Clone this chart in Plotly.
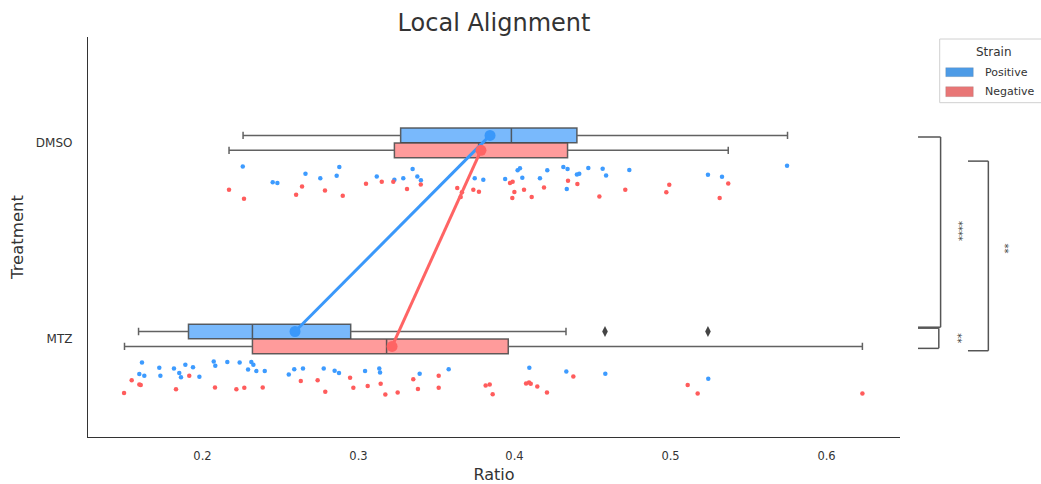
import numpy as np
import plotly.graph_objects as go

# ---------------- data ----------------
categories = ["DMSO", "MTZ"]
strains = ["Positive", "Negative"]

# strip points (Ratio values) and their vertical jitter (offset from category)
pos_dmso_ratio = [0.2258, 0.245, 0.248, 0.266, 0.2755, 0.286, 0.2877, 0.3117, 0.323, 0.3287,
                  0.3347, 0.3377, 0.340, 0.3745, 0.380, 0.394, 0.402, 0.4035, 0.405, 0.4163,
                  0.421, 0.4313, 0.434, 0.440, 0.4415, 0.4473, 0.4335, 0.4565, 0.4587, 0.4736,
                  0.524, 0.533, 0.5747]
pos_dmso_jitter = [0.120, 0.201, 0.204, 0.157, 0.180, 0.167, 0.123, 0.171, 0.188, 0.181,
                   0.133, 0.171, 0.191, 0.181, 0.188, 0.184, 0.140, 0.130, 0.178, 0.181,
                   0.140, 0.123, 0.133, 0.161, 0.157, 0.128, 0.235, 0.132, 0.166, 0.138,
                   0.162, 0.173, 0.117]

neg_dmso_ratio = [0.217, 0.2266, 0.260, 0.2638, 0.2785, 0.2899, 0.3048, 0.3149, 0.3223, 0.3311,
                  0.3399, 0.3633, 0.3663, 0.3655, 0.3736, 0.3772, 0.3971, 0.3988, 0.3999, 0.3986,
                  0.4061, 0.411, 0.4189, 0.4343, 0.4403, 0.4544, 0.471, 0.4973, 0.4992, 0.5315,
                  0.537]
neg_dmso_jitter = [0.239, 0.285, 0.264, 0.222, 0.243, 0.269, 0.208, 0.198, 0.198, 0.235,
                   0.212, 0.230, 0.252, 0.276, 0.239, 0.249, 0.205, 0.198, 0.250, 0.281,
                   0.239, 0.276, 0.228, 0.193, 0.210, 0.273, 0.239, 0.252, 0.213, 0.281,
                   0.207]

pos_mtz_ratio = [0.1612, 0.1595, 0.1627, 0.1723, 0.173, 0.1817, 0.1851, 0.1862, 0.189, 0.1939,
                 0.198, 0.2072, 0.2082, 0.2159, 0.2238, 0.2313, 0.2326, 0.2292, 0.2345, 0.2399,
                 0.2553, 0.2588, 0.2644, 0.2777, 0.2847, 0.2875, 0.3042, 0.3133, 0.3138, 0.3392,
                 0.3578, 0.4095, 0.4332, 0.4582, 0.5242]
pos_mtz_jitter = [0.120, 0.179, 0.188, 0.147, 0.188, 0.151, 0.174, 0.195, 0.131, 0.144,
                  0.193, 0.115, 0.137, 0.118, 0.120, 0.117, 0.131, 0.156, 0.164, 0.164,
                  0.181, 0.154, 0.151, 0.151, 0.162, 0.174, 0.164, 0.151, 0.171, 0.178,
                  0.154, 0.147, 0.166, 0.178, 0.203]

neg_mtz_ratio = [0.1497, 0.1546, 0.1595, 0.1604, 0.183, 0.1915, 0.208, 0.2217, 0.2268, 0.2386,
                 0.263, 0.2738, 0.2787, 0.2946, 0.2967, 0.3059, 0.3142, 0.3172, 0.3251, 0.3351,
                 0.3381, 0.3514, 0.3514, 0.3815, 0.3841, 0.386, 0.4074, 0.4093, 0.4104, 0.4146,
                 0.4208, 0.4377, 0.511, 0.5174, 0.623]
neg_mtz_jitter = [0.276, 0.210, 0.232, 0.235, 0.257, 0.188, 0.247, 0.257, 0.249, 0.247,
                  0.215, 0.210, 0.269, 0.198, 0.249, 0.240, 0.228, 0.283, 0.273, 0.205,
                  0.255, 0.188, 0.249, 0.237, 0.232, 0.282, 0.227, 0.222, 0.229, 0.243,
                  0.273, 0.192, 0.235, 0.278, 0.278]

# box statistics per category (DMSO, MTZ)
pos_lo = [0.226, 0.159]
pos_q1 = [0.327, 0.191]
pos_med = [0.398, 0.232]
pos_q3 = [0.440, 0.295]
pos_hi = [0.575, 0.433]
neg_lo = [0.217, 0.150]
neg_q1 = [0.323, 0.232]
neg_med = [0.377, 0.318]
neg_q3 = [0.434, 0.396]
neg_hi = [0.537, 0.623]
pos_outlier_ratio = [0.458, 0.524]
pos_outlier_cat = ["MTZ", "MTZ"]

# point-plot means
pos_mean = [0.3843, 0.2593]
neg_mean = [0.3785, 0.3215]

# significance annotations
sig_labels = ["****", "**", "**"]

# ---------------- styling ----------------
FONT = "DejaVu Sans"
BLUE_BOX = "#79b9fc"
RED_BOX = "#ff9b9b"
BLUE_PT = "#3d9bff"
RED_PT = "#ff5c5c"
BLUE_LINE = "#3a98fa"
RED_LINE = "#ff6464"
EDGE = "rgba(70,70,70,0.85)"
DODGE = 0.038
BOXW = 0.075

cat_idx = {c: i for i, c in enumerate(categories)}
idx = np.arange(len(categories))

fig = go.Figure()

# boxes
for lo, q1, med, q3, hi, off, fill in [
    (pos_lo, pos_q1, pos_med, pos_q3, pos_hi, -DODGE, BLUE_BOX),
    (neg_lo, neg_q1, neg_med, neg_q3, neg_hi, DODGE, RED_BOX),
]:
    fig.add_trace(go.Box(
        orientation="h", y=list(idx + off), q1=q1, median=med, q3=q3,
        lowerfence=lo, upperfence=hi, width=BOXW, whiskerwidth=0.5,
        fillcolor=fill, line=dict(color=EDGE, width=1.5),
        boxpoints=False, showlegend=False, hoverinfo="skip"))

# outliers
fig.add_trace(go.Scatter(
    x=pos_outlier_ratio, y=[cat_idx[c] - DODGE for c in pos_outlier_cat],
    mode="markers", marker=dict(symbol="diamond-tall", size=8, color="#444444"),
    showlegend=False, hoverinfo="skip"))

# strip points
for ratio, jit, cat, col in [
    (pos_dmso_ratio, pos_dmso_jitter, "DMSO", BLUE_PT),
    (neg_dmso_ratio, neg_dmso_jitter, "DMSO", RED_PT),
    (pos_mtz_ratio, pos_mtz_jitter, "MTZ", BLUE_PT),
    (neg_mtz_ratio, neg_mtz_jitter, "MTZ", RED_PT),
]:
    fig.add_trace(go.Scatter(
        x=ratio, y=list(np.array(jit) + cat_idx[cat]), mode="markers",
        marker=dict(size=4.5, color=col, line=dict(width=0)),
        showlegend=False, hoverinfo="skip"))

# point plot (means connected)
for mean, off, col in [(pos_mean, -DODGE, BLUE_LINE), (neg_mean, DODGE, RED_LINE)]:
    fig.add_trace(go.Scatter(
        x=mean, y=list(idx + off), mode="lines+markers",
        line=dict(color=col, width=3), marker=dict(size=11, color=col),
        showlegend=False, hoverinfo="skip"))

# ---------------- significance brackets ----------------
brackets = [  # (x_left, x_right (paper), y_top, y_bottom (data), label x, label y)
    (1.0222, 1.0500, -0.030, 0.940, 1.0727, 0.450),
    (1.0222, 1.0478, 0.945, 1.048, 1.0698, 0.995),
    (1.0837, 1.1088, 0.093, 1.060, 1.1290, 0.537),
]
for (xl, xr, yt, yb, lx, ly), lab in zip(brackets, sig_labels):
    for (x0, y0, x1, y1) in [(xl, yt, xr, yt), (xr, yt, xr, yb), (xr, yb, xl, yb)]:
        fig.add_shape(type="line", xref="paper", yref="y", x0=x0, y0=y0, x1=x1, y1=y1,
                      line=dict(color="#555555", width=1.5))
    fig.add_annotation(xref="paper", yref="y", x=lx, y=ly, text=lab, textangle=90,
                       showarrow=False, font=dict(family=FONT, size=10, color="#444444"),
                       xanchor="center", yanchor="middle")

# ---------------- manual legend ----------------
fig.add_shape(type="rect", xref="paper", yref="paper", x0=1.0489, x1=1.19, y0=0.8358, y1=0.995,
              line=dict(color="#d0d0d0", width=1), fillcolor="white")
fig.add_annotation(xref="paper", yref="paper", x=1.1158, y=0.9633, text="Strain", showarrow=False,
                   font=dict(family=FONT, size=12, color="#333333"), xanchor="center", yanchor="middle")
for name, col, y0, y1, ty in [("Positive", "#4d9be6", 0.9008, 0.9233, 0.9118),
                              ("Negative", "#e87676", 0.8508, 0.8758, 0.8625)]:
    fig.add_shape(type="rect", xref="paper", yref="paper", x0=1.0563, x1=1.0903, y0=y0, y1=y1,
                  line=dict(color="rgba(80,80,80,0.3)", width=0.5), fillcolor=col)
    fig.add_annotation(xref="paper", yref="paper", x=1.1026, y=ty, text=name, showarrow=False,
                       font=dict(family=FONT, size=11, color="#333333"), xanchor="left", yanchor="middle")

fig.update_layout(
    width=1041, height=484,
    margin=dict(l=88, r=141, t=37, b=47, autoexpand=False),
    paper_bgcolor="white", plot_bgcolor="white",
    font=dict(family=FONT, color="#333333"),
    title=dict(text="Local Alignment", x=(88 + 900) / 2 / 1041, xanchor="center",
               y=0.953, yanchor="middle", font=dict(family=FONT, size=24, color="#333333")),
    showlegend=False,
)
fig.update_xaxes(
    range=[0.1266, 0.6471], tickvals=[0.2, 0.3, 0.4, 0.5, 0.6],
    ticktext=["0.2", "0.3", "0.4", "0.5", "0.6"], automargin=False,
    showgrid=False, zeroline=False, showline=True, linecolor="#333333", linewidth=1.3,
    ticks="", ticklabelstandoff=8, tickfont=dict(family=FONT, size=11.5, color="#333333"),
    title=dict(text="Ratio", font=dict(family=FONT, size=16, color="#333333"), standoff=8),
)
fig.update_yaxes(
    range=[1.5, -0.54], tickvals=list(idx), ticktext=categories, automargin=False,
    showgrid=False, zeroline=False, showline=True, linecolor="#333333", linewidth=1.3,
    ticks="", ticklabelstandoff=12, tickfont=dict(family=FONT, size=12, color="#333333"),
    title=dict(text="Treatment", font=dict(family=FONT, size=16.5, color="#333333"), standoff=8),
)

fig.write_html("out.html")
